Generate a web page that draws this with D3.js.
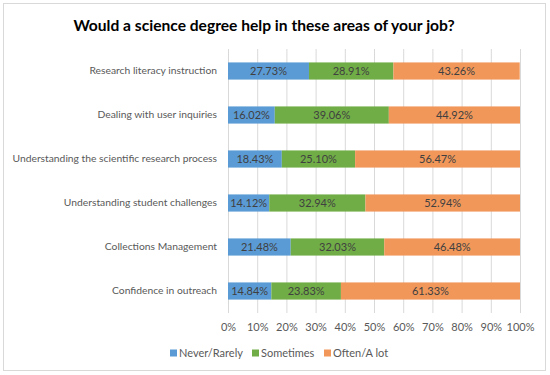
<!DOCTYPE html>
<html>
<head>
<meta charset="utf-8">
<script src="https://cdn.jsdelivr.net/npm/d3@7"></script>
<style>
  body { margin: 0; background: #fff; }
  text { font-family: Lato, "Open Sans", sans-serif; }
</style>
</head>
<body>
<script>
// datos
const categorias = [
  "Research literacy instruction",
  "Dealing with user inquiries",
  "Understanding the scientific research process",
  "Understanding student challenges",
  "Collections Management",
  "Confidence in outreach"
];
const series = ["Never/Rarely", "Sometimes", "Often/A lot"];
const nunca = [27.73, 16.02, 18.43, 14.12, 21.48, 14.84];
const aVeces = [28.91, 39.06, 25.10, 32.94, 32.03, 23.83];
const aMenudo = [43.26, 44.92, 56.47, 52.94, 46.48, 61.33];
const ticksX = [0, 10, 20, 30, 40, 50, 60, 70, 80, 90, 100];
const colores = ["#5B9BD5", "#70AD47", "#F1975A"];

let width = 550;
let height = 375;
let margin = { top: 49, bottom: 62, left: 228, right: 30 };
let fuente = "11px";

let svg = d3.select("body")
  .append("svg")
  .attr("width", width)
  .attr("height", height);

// marco
svg.append("rect")
  .attr("x", 3.5).attr("y", 3.5)
  .attr("width", 542).attr("height", 367)
  .attr("fill", "#fff")
  .attr("stroke", "#d9d9d9");

// titulo
svg.append("text")
  .attr("x", 264).attr("y", 31)
  .attr("text-anchor", "middle")
  .attr("font-size", "15.6px")
  .attr("font-weight", "bold")
  .attr("fill", "#000")
  .text("Would a science degree help in these areas of your job?");

const escalaX = d3.scaleLinear()
  .domain([0, 100])
  .range([margin.left, 520]);
const escalaY = d3.scaleBand()
  .domain(categorias)
  .range([margin.top, 313])
  .paddingInner(0.61)
  .paddingOuter(0.305);

// rejilla
svg.append("g")
  .selectAll("line")
  .data(ticksX)
  .enter()
  .append("line")
  .attr("x1", d => escalaX(d) + 0.5)
  .attr("x2", d => escalaX(d) + 0.5)
  .attr("y1", margin.top)
  .attr("y2", 313)
  .attr("stroke", "#d9d9d9");

// datos apilados
const filas = categorias.map((c, i) => ({
  categoria: c,
  "Never/Rarely": nunca[i],
  "Sometimes": aVeces[i],
  "Often/A lot": aMenudo[i]
}));
const apilado = d3.stack().keys(series)(filas);

const grupos = svg.append("g")
  .selectAll("g")
  .data(apilado)
  .enter()
  .append("g")
  .attr("fill", (d, i) => colores[i]);

grupos.selectAll("rect")
  .data(d => d)
  .enter()
  .append("rect")
  .attr("x", d => escalaX(d[0]))
  .attr("y", d => escalaY(d.data.categoria))
  .attr("width", d => escalaX(d[1]) - escalaX(d[0]))
  .attr("height", escalaY.bandwidth());

grupos.selectAll("text")
  .data(d => d)
  .enter()
  .append("text")
  .attr("x", d => (escalaX(d[0]) + escalaX(d[1])) / 2)
  .attr("y", d => escalaY(d.data.categoria) + escalaY.bandwidth() / 2)
  .attr("dy", "0.35em")
  .attr("text-anchor", "middle")
  .attr("font-size", fuente)
  .attr("fill", "#404040")
  .text(d => (d[1] - d[0]).toFixed(2) + "%");

// eje y
let ejeY = d3.axisLeft(escalaY).tickSize(0).tickPadding(11);
let gY = svg.append("g")
  .attr("transform", "translate(" + margin.left + ",0)")
  .call(ejeY);
gY.select(".domain").remove();
gY.selectAll("text")
  .attr("font-size", "10.3px")
  .attr("fill", "#595959")
  .style("font-family", "Lato, sans-serif");

// eje x
let ejeX = d3.axisBottom(escalaX)
  .tickValues(ticksX)
  .tickSize(0)
  .tickPadding(10)
  .tickFormat(d => d + "%");
let gX = svg.append("g")
  .attr("transform", "translate(0," + 313 + ")")
  .call(ejeX);
gX.select(".domain").remove();
gX.selectAll("text")
  .attr("font-size", fuente)
  .attr("fill", "#595959")
  .style("font-family", "Lato, sans-serif");

// leyenda
const posLeyenda = [170, 252, 324];
const leyenda = svg.append("g")
  .selectAll("g")
  .data(series)
  .enter()
  .append("g")
  .attr("transform", (d, i) => "translate(" + posLeyenda[i] + ",353)");
leyenda.append("rect")
  .attr("x", 0).attr("y", -3.5)
  .attr("width", 7).attr("height", 7)
  .attr("fill", (d, i) => colores[i]);
leyenda.append("text")
  .attr("x", 9)
  .attr("dy", "0.35em")
  .attr("font-size", fuente)
  .attr("fill", "#595959")
  .text(d => d);
</script>
</body>
</html>
